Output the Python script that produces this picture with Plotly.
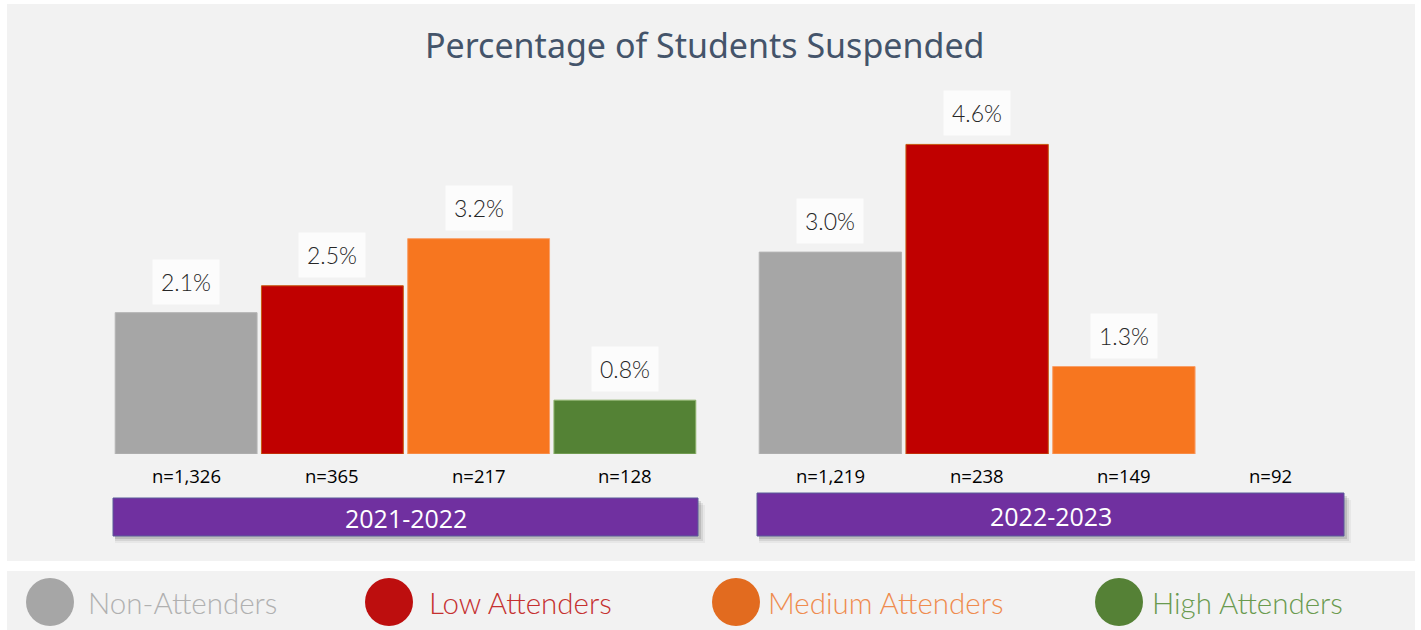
import plotly.graph_objects as go

# ---- data ----
categories = ["Non-Attenders", "Low Attenders", "Medium Attenders", "High Attenders"]
years = ["2021-2022", "2022-2023"]
pct_2021 = [2.1, 2.5, 3.2, 0.8]
pct_2022 = [3.0, 4.6, 1.3, None]
n_2021 = ["n=1,326", "n=365", "n=217", "n=128"]
n_2022 = ["n=1,219", "n=238", "n=149", "n=92"]
title_text = "Percentage of Students Suspended"

# ---- styles ----
bar_colors = ["#a6a6a6", "#c00000", "#f7761f", "#548235"]
bar_edges = ["#b4b4b4", "#c55a11", "#f8a06a", "#8fb46e"]
dot_colors = ["#a6a6a6", "#bd0e0e", "#e26b1f", "#558136"]
legend_text_colors = ["#b0b0b0", "#c5302f", "#ef8b4e", "#6a9a4f"]

W, H = 1421, 630
domains = [(113, 698), (757, 1344)]


def px_x(p):
    return p / W


def px_y(p):
    return 1 - p / H


fig = go.Figure()

series = [(pct_2021, n_2021, "x", "y"), (pct_2022, n_2022, "x2", "y")]
for vals, ns, xa, ya in series:
    fig.add_trace(go.Bar(
        x=categories, y=vals, xaxis=xa, yaxis=ya,
        marker=dict(color=bar_colors, line=dict(color=bar_edges, width=1)),
        showlegend=False, hoverinfo="skip",
    ))

annotations = []
label_font = dict(family="Lato", size=23, color="#262626", weight=300)
n_font = dict(family="Open Sans", size=18.5, color="#000000")
for vals, ns, xa, ya in series:
    for cat, v, n in zip(categories, vals, ns):
        if v is not None:
            annotations.append(dict(
                x=cat, y=v, xref=xa, yref=ya, text=f"{v:.1f}%",
                showarrow=False, yanchor="bottom", yshift=8,
                bgcolor="#fcfcfc", borderpad=8, font=label_font,
            ))
        annotations.append(dict(
            x=cat, y=0, xref=xa, yref=ya, text=n,
            showarrow=False, yanchor="middle", yshift=-21, font=n_font,
        ))

shapes = []
# background panels
shapes.append(dict(type="rect", xref="paper", yref="paper", layer="below",
                   x0=px_x(7), x1=px_x(1415), y0=px_y(561), y1=px_y(4),
                   fillcolor="#f2f2f2", line=dict(width=0)))
shapes.append(dict(type="rect", xref="paper", yref="paper", layer="below",
                   x0=px_x(7), x1=px_x(1415), y0=px_y(632), y1=px_y(571),
                   fillcolor="#f2f2f2", line=dict(width=0)))

# year banners with soft shadow
banner_tops = [498, 493]
banner_bottom = 536
for i, yr in enumerate(years):
    top = banner_tops[i]
    left, right = domains[i]
    for k, op in [(7, 0.06), (5, 0.10), (3, 0.16)]:
        shapes.append(dict(type="rect", xref="paper", yref="paper",
                           x0=px_x(left + 2), x1=px_x(right + k),
                           y0=px_y(banner_bottom + k), y1=px_y(top + k),
                           fillcolor=f"rgba(60,60,60,{op})", line=dict(width=0)))
    shapes.append(dict(type="rect", xref="paper", yref="paper",
                       x0=px_x(left), x1=px_x(right),
                       y0=px_y(banner_bottom), y1=px_y(top),
                       fillcolor="#7030a0", line=dict(color="#5a5a9a", width=1)))
    annotations.append(dict(x=px_x((left + right) / 2), xref="paper",
                            y=px_y((top + banner_bottom) / 2 + 1), yref="paper",
                            text=yr, showarrow=False, xanchor="center", yanchor="middle",
                            font=dict(family="Open Sans", size=25, color="#ffffff")))

# custom legend
dot_cx = [50, 389, 736, 1119]
text_x = [88, 429, 768, 1152]
leg_cy = 602
r = 24
for cat, cx, tx, dc, tc in zip(categories, dot_cx, text_x, dot_colors, legend_text_colors):
    shapes.append(dict(type="circle", xref="paper", yref="paper",
                       x0=px_x(cx - r), x1=px_x(cx + r),
                       y0=px_y(leg_cy + r), y1=px_y(leg_cy - r),
                       fillcolor=dc, line=dict(width=0)))
    annotations.append(dict(x=px_x(tx - 2), y=px_y(leg_cy), xref="paper", yref="paper",
                            xanchor="left", yanchor="middle", text=cat, showarrow=False,
                            font=dict(family="Lato", size=29.5, color=tc, weight=300)))

# title
annotations.append(dict(x=px_x(705), y=px_y(45), xref="paper", yref="paper",
                        text=title_text, showarrow=False, xanchor="center", yanchor="middle",
                        font=dict(family="Noto Sans", size=34, color="#44546a", weight=400)))

axis_off = dict(showgrid=False, zeroline=False, showticklabels=False,
                showline=False, ticks="", fixedrange=True)

fig.update_layout(
    width=W, height=H,
    margin=dict(l=0, r=0, t=0, b=0),
    paper_bgcolor="#ffffff", plot_bgcolor="rgba(0,0,0,0)",
    bargap=0.03,
    xaxis=dict(domain=[domains[0][0] / W, domains[0][1] / W], anchor="y", **axis_off),
    xaxis2=dict(domain=[domains[1][0] / W, domains[1][1] / W], anchor="y", **axis_off),
    yaxis=dict(domain=[px_y(454), px_y(454 - 5 * 67.3)], range=[0, 5], **axis_off),
    shapes=shapes, annotations=annotations,
    showlegend=False,
)

fig.write_html("out.html", config={"displayModeBar": False},
               post_script="document.body.style.margin='0';")
